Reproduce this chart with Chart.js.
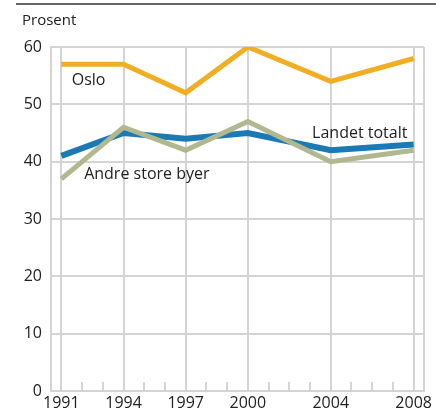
<!DOCTYPE html>
<html>
<head>
<meta charset="utf-8">
<script src="https://cdn.jsdelivr.net/npm/chart.js@4"></script>
<style>
  html, body { margin: 0; padding: 0; background: #fff; }
  #wrap { width: 436px; height: 416px; position: relative; }
</style>
</head>
<body>
<div id="wrap"><canvas id="chart"></canvas></div>
<script>
// data
const years = [1991, 1994, 1997, 2000, 2004, 2008];
const oslo = [57, 57, 52, 60, 54, 58];
const landet = [41, 45, 44, 45, 42, 43];
const andre = [37, 46, 42, 47, 40, 42];
const yTicks = [0, 10, 20, 30, 40, 50, 60];
const minorYears = [1992, 1993, 1995, 1996, 1998, 1999, 2001, 2002, 2003, 2005, 2006, 2007];

const FONT = "'Open Sans', 'DejaVu Sans', sans-serif";
const GRID = "#d4d4d4";

// series labels placed in data coordinates
const seriesLabels = [
  { text: "Oslo", x: 1991.5, y: 54.1, align: "left" },
  { text: "Andre store byer", x: 1992.1, y: 37.75, align: "left" },
  { text: "Landet totalt", x: 2007.7, y: 45.0, align: "right" },
];

const toPts = arr => arr.map((v, i) => ({ x: years[i], y: v }));

const decor = {
  id: "decor",
  beforeDatasetsDraw(chart) {
    const { ctx, chartArea: a, scales: { x } } = chart;
    ctx.save();
    ctx.strokeStyle = GRID;
    ctx.lineWidth = 2;
    // right frame line
    ctx.beginPath();
    ctx.moveTo(a.right, a.top);
    ctx.lineTo(a.right, a.bottom);
    ctx.stroke();
    // minor year ticks
    minorYears.forEach(yr => {
      const px = Math.round(x.getPixelForValue(yr));
      ctx.beginPath();
      ctx.moveTo(px, a.bottom);
      ctx.lineTo(px, a.bottom - 9);
      ctx.stroke();
    });
    ctx.restore();
  },
  afterDatasetsDraw(chart) {
    const { ctx, scales: { x, y } } = chart;
    ctx.save();
    // top rule
    ctx.strokeStyle = "#333";
    ctx.lineWidth = 1.5;
    ctx.beginPath();
    ctx.moveTo(16, 4);
    ctx.lineTo(436, 4);
    ctx.stroke();
    // unit
    ctx.fillStyle = "#222";
    ctx.font = "15px " + FONT;
    ctx.textBaseline = "middle";
    ctx.textAlign = "left";
    ctx.fillText("Prosent", 22, 21);
    // series labels
    ctx.font = "16px " + FONT;
    seriesLabels.forEach(l => {
      ctx.textAlign = l.align;
      ctx.fillText(l.text, x.getPixelForValue(l.x), y.getPixelForValue(l.y));
    });
    ctx.restore();
  },
};

new Chart(document.getElementById("chart"), {
  type: "line",
  data: {
    datasets: [
      { label: "Andre store byer", data: toPts(andre), borderColor: "#b1b78f", borderWidth: 5, order: 1 },
      { label: "Landet totalt", data: toPts(landet), borderColor: "#1b7ab6", borderWidth: 6, order: 2 },
      { label: "Oslo", data: toPts(oslo), borderColor: "#f0ae24", borderWidth: 5, order: 3 },
    ],
  },
  options: {
    responsive: true,
    maintainAspectRatio: false,
    animation: false,
    layout: { padding: { top: 47, right: 12, left: 0, bottom: 0 } },
    elements: {
      point: { radius: 0, hoverRadius: 0 },
      line: { tension: 0, fill: false },
    },
    plugins: { legend: { display: false }, tooltip: { enabled: false } },
    scales: {
      x: {
        type: "linear",
        min: 1990.5,
        max: 2008.5,
        afterBuildTicks(scale) { scale.ticks = years.map(v => ({ value: v })); },
        afterFit(scale) { scale.height = 25; scale.paddingLeft = 0; scale.paddingRight = 0; },
        grid: { color: GRID, lineWidth: 2, drawTicks: false },
        border: { color: GRID, width: 2 },
        ticks: {
          color: "#222",
          font: { family: FONT, size: 16 },
          padding: 3,
          maxRotation: 0,
          autoSkip: false,
          callback: v => String(v),
        },
      },
      y: {
        min: 0,
        max: 60,
        afterBuildTicks(scale) { scale.ticks = yTicks.map(v => ({ value: v })); },
        afterFit(scale) { scale.width = 51; },
        grid: { color: GRID, lineWidth: 2, drawTicks: false },
        border: { color: GRID, width: 2 },
        ticks: {
          color: "#222",
          font: { family: FONT, size: 16 },
          padding: 9,
        },
      },
    },
  },
  plugins: [decor],
});
</script>
</body>
</html>
